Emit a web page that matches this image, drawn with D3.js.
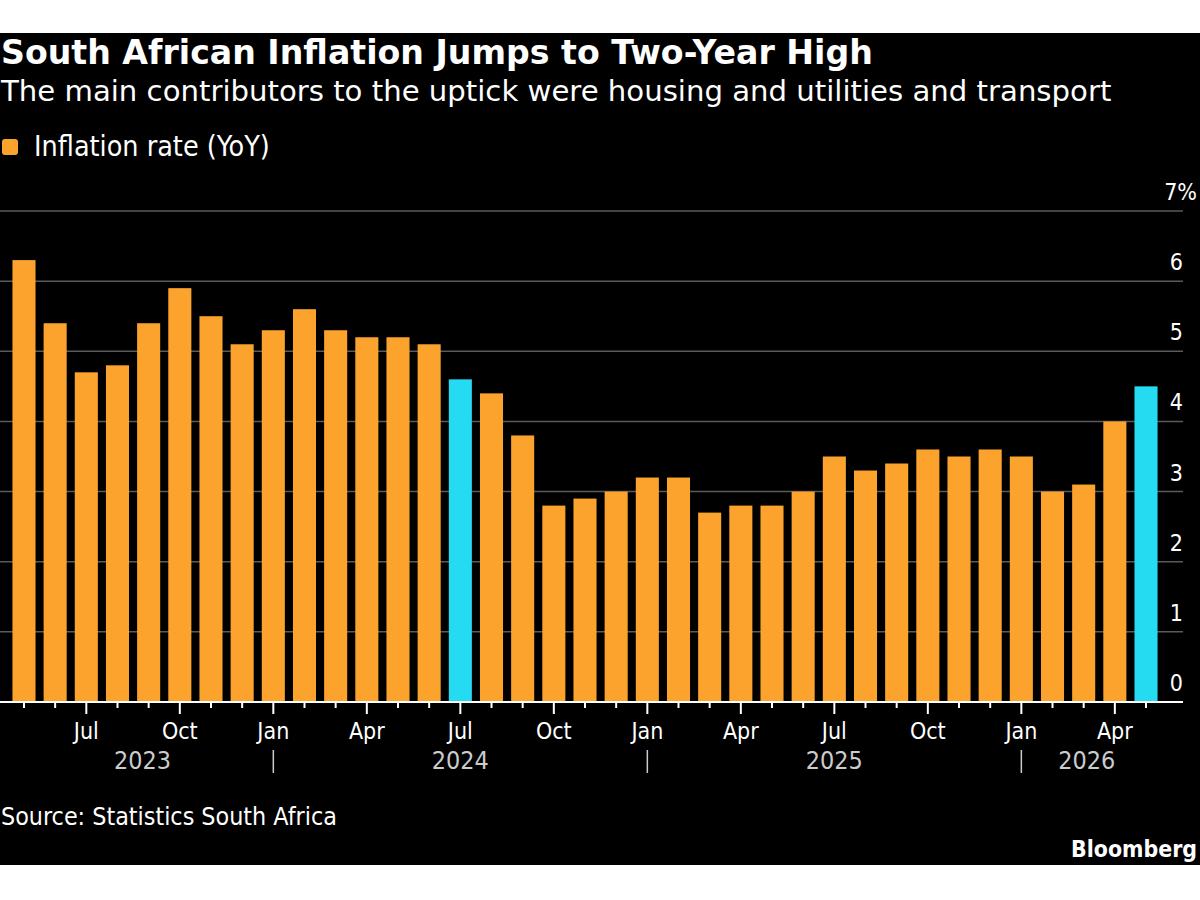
<!DOCTYPE html>
<html>
<head>
<meta charset="utf-8">
<script src="https://cdn.jsdelivr.net/npm/d3@7"></script>
<style>
  body { margin: 0; background: #fff; }
  text { font-family: "DejaVu Sans Condensed", "DejaVu Sans", sans-serif; }
  text.head { font-family: "DejaVu Sans", sans-serif; }
</style>
</head>
<body>
<div id="chart"></div>
<script>
// monthly CPI, May 2023 - May 2026
var months = d3.timeMonths(new Date(2023, 4, 1), new Date(2026, 5, 1));
var inflation = [
  6.3, 5.4, 4.7, 4.8, 5.4, 5.9, 5.5, 5.1,
  5.3, 5.6, 5.3, 5.2, 5.2, 5.1, 4.6, 4.4, 3.8, 2.8, 2.9, 3.0,
  3.2, 3.2, 2.7, 2.8, 2.8, 3.0, 3.5, 3.3, 3.4, 3.6, 3.5, 3.6,
  3.5, 3.0, 3.1, 4.0, 4.5
];
var highlighted = ["2024-07", "2026-05"];
var yTicks = [0, 1, 2, 3, 4, 5, 6, 7];
var yearLabels = [
  { year: "2023", at: 3.8 },
  { year: "2024", at: 14 },
  { year: "2025", at: 26 },
  { year: "2026", at: 34.1 }
];

var W = 1200, H = 900;
var svg = d3.select("#chart").append("svg").attr("width", W).attr("height", H);

svg.append("rect").attr("x", 0).attr("y", 33).attr("width", W).attr("height", 832).attr("fill", "#000");

// scale a text's font size so it spans a given width
function fit(sel, target) {
  var w = sel.node().getComputedTextLength();
  var fs = +sel.attr("font-size");
  sel.attr("font-size", (fs * target / w).toFixed(2));
  return sel;
}

var fmt = d3.timeFormat("%Y-%m");
var data = months.map(function(m, i) { return { month: m, value: inflation[i] }; });

var x = d3.scaleBand()
  .domain(d3.range(data.length))
  .range([8.4, 1161.6])
  .paddingInner(0.26)
  .paddingOuter(0.13);

var y = d3.scaleLinear().domain([0, 7]).range([702, 211]);

// gridlines
svg.append("g").selectAll("line")
  .data(yTicks.filter(function(t) { return t > 0; }))
  .enter().append("line")
  .attr("x1", 0).attr("x2", 1183)
  .attr("y1", function(d) { return y(d); }).attr("y2", function(d) { return y(d); })
  .attr("stroke", "#5a5a5a").attr("stroke-width", 1.5);

// y labels
svg.append("g").selectAll("text")
  .data(yTicks)
  .enter().append("text")
  .attr("x", function(d) { return d == 7 ? 1197 : 1183; })
  .attr("y", function(d) { return y(d) - 11; })
  .attr("text-anchor", "end")
  .attr("fill", "#fff").attr("font-size", 23)
  .text(function(d) { return d == 7 ? "7%" : d; });

// bars
svg.append("g").selectAll("rect")
  .data(data)
  .enter().append("rect")
  .attr("x", function(d, i) { return x(i); })
  .attr("width", x.bandwidth())
  .attr("y", function(d) { return y(d.value); })
  .attr("height", function(d) { return y(0) - y(d.value); })
  .attr("fill", function(d) { return highlighted.indexOf(fmt(d.month)) >= 0 ? "#25dbf2" : "#fca32e"; });

// baseline
svg.append("line").attr("x1", 0).attr("x2", 1183).attr("y1", y(0)).attr("y2", y(0))
  .attr("stroke", "#fff").attr("stroke-width", 2);

// month ticks
var cx = function(i) { return x(i) + x.bandwidth() / 2; };
svg.append("g").selectAll("line")
  .data(data)
  .enter().append("line")
  .attr("x1", function(d, i) { return cx(i); }).attr("x2", function(d, i) { return cx(i); })
  .attr("y1", y(0))
  .attr("y2", function(d) { return y(0) + (d.month.getMonth() % 3 == 0 ? 12 : 6); })
  .attr("stroke", "#fff").attr("stroke-width", 2);

// month labels
var quarterly = data.map(function(d, i) { return { d: d, i: i }; })
  .filter(function(o) { return o.d.month.getMonth() % 3 == 0; });
svg.append("g").selectAll("text")
  .data(quarterly)
  .enter().append("text")
  .attr("x", function(o) { return cx(o.i); })
  .attr("y", 739)
  .attr("text-anchor", "middle")
  .attr("fill", "#fff").attr("font-size", 23)
  .text(function(o) { return d3.timeFormat("%b")(o.d.month); });

// year separators at january
svg.append("g").selectAll("line")
  .data(quarterly.filter(function(o) { return o.d.month.getMonth() == 0; }))
  .enter().append("line")
  .attr("x1", function(o) { return cx(o.i); }).attr("x2", function(o) { return cx(o.i); })
  .attr("y1", 750).attr("y2", 773)
  .attr("stroke", "#ccc").attr("stroke-width", 1.5);

var step = x.step();
svg.append("g").selectAll("text")
  .data(yearLabels)
  .enter().append("text")
  .attr("x", function(d) { return cx(0) + d.at * step; })
  .attr("y", 769)
  .attr("text-anchor", "middle")
  .attr("fill", "#ccc").attr("font-size", 22)
  .text(function(d) { return d.year; })
  .each(function() { fit(d3.select(this), 57); });

// titles
fit(svg.append("text").attr("class", "head").attr("x", 1).attr("y", 64).attr("fill", "#fff")
  .attr("font-size", 30).attr("font-weight", "bold")
  .text("South African Inflation Jumps to Two-Year High"), 872);
fit(svg.append("text").attr("class", "head").attr("x", 1).attr("y", 101).attr("fill", "#fff")
  .attr("font-size", 28)
  .text("The main contributors to the uptick were housing and utilities and transport"), 1111);

// legend
svg.append("rect").attr("x", 2).attr("y", 139).attr("width", 16).attr("height", 16).attr("rx", 3)
  .attr("fill", "#fca32e");
fit(svg.append("text").attr("x", 34).attr("y", 156).attr("fill", "#fff").attr("font-size", 22)
  .text("Inflation rate (YoY)"), 236);

fit(svg.append("text").attr("x", 1).attr("y", 825).attr("fill", "#fff").attr("font-size", 22)
  .text("Source: Statistics South Africa"), 336);
fit(svg.append("text").attr("x", 1197).attr("y", 857).attr("text-anchor", "end").attr("fill", "#fff")
  .attr("font-size", 22).attr("font-weight", "bold").text("Bloomberg"), 126);
</script>
</body>
</html>
